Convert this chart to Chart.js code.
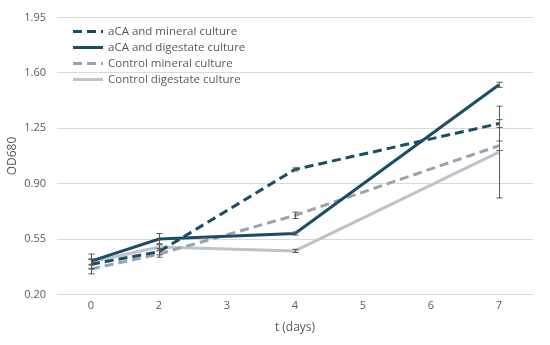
<!DOCTYPE html>
<html>
<head>
<meta charset="utf-8">
<script src="https://cdn.jsdelivr.net/npm/chart.js@4"></script>
<style>
  html, body { margin: 0; padding: 0; background: #fff; }
  #wrap { position: relative; width: 550px; height: 345px; }
</style>
</head>
<body>
<div id="wrap"><canvas id="od-chart" width="550" height="345"></canvas></div>
<script>
const dayLabels = ["0", "2", "3", "4", "5", "6", "7"];

const acaMineral = [0.39, 0.47, null, 0.99, null, null, 1.28];
const acaDigestate = [0.41, 0.55, null, 0.585, null, null, 1.525];
const ctrlMineral = [0.36, 0.455, null, 0.70, null, null, 1.14];
const ctrlDigestate = [0.405, 0.50, null, 0.475, null, null, 1.10];

const acaMineralErr = [0.03, 0.02, null, 0.01, null, null, 0.025];
const acaDigestateErr = [0.045, 0.035, null, 0.01, null, null, 0.016];
const ctrlMineralErr = [0.03, 0.02, null, 0.02, null, null, 0.03];
const ctrlDigestateErr = [0.02, 0.02, null, 0.01, null, null, 0.29];

const yTicks = [0.20, 0.55, 0.90, 1.25, 1.60, 1.95];

const TEXT = "#595959";
const FONT = "'Open Sans', 'Noto Sans', sans-serif";

const makeSeries = (label, data, errors, color, dash) => ({
  label,
  data,
  errors,
  borderColor: color,
  backgroundColor: color,
  borderWidth: 3,
  borderDash: dash,
  pointRadius: 0,
  pointHoverRadius: 0,
  tension: 0,
  spanGaps: true,
});

// error bars drawn through the chart's own scales
const errorBars = {
  id: "errorBars",
  afterDatasetsDraw(chart) {
    const { ctx, scales } = chart;
    ctx.save();
    ctx.strokeStyle = TEXT;
    ctx.lineWidth = 1;
    chart.data.datasets.forEach((ds) => {
      ds.data.forEach((v, i) => {
        const e = ds.errors[i];
        if (v == null || e == null) return;
        const x = Math.round(scales.x.getPixelForValue(i)) + 0.5;
        const top = scales.y.getPixelForValue(v + e);
        const bottom = scales.y.getPixelForValue(v - e);
        ctx.beginPath();
        ctx.moveTo(x, top);
        ctx.lineTo(x, bottom);
        ctx.moveTo(x - 3, top);
        ctx.lineTo(x + 3, top);
        ctx.moveTo(x - 3, bottom);
        ctx.lineTo(x + 3, bottom);
        ctx.stroke();
      });
    });
    ctx.restore();
  },
};

// legend drawn inside the plot, top-left, like the original
const insideLegend = {
  id: "insideLegend",
  afterDraw(chart) {
    const { ctx } = chart;
    const rows = [31, 47, 63, 79];
    ctx.save();
    ctx.font = "11.5px " + FONT;
    ctx.textBaseline = "middle";
    chart.data.datasets.forEach((ds, i) => {
      const y = rows[i] + 0.5;
      ctx.strokeStyle = ds.borderColor;
      ctx.lineWidth = 3;
      ctx.setLineDash(ds.borderDash || []);
      ctx.beginPath();
      ctx.moveTo(73, y);
      ctx.lineTo(103, y);
      ctx.stroke();
      ctx.setLineDash([]);
      ctx.fillStyle = TEXT;
      ctx.fillText(ds.label, 108, y);
    });
    ctx.restore();
  },
};

new Chart(document.getElementById("od-chart"), {
  type: "line",
  data: {
    labels: dayLabels,
    datasets: [
      makeSeries("aCA and mineral culture", acaMineral, acaMineralErr, "#1b4d66", [9, 5]),
      makeSeries("aCA and digestate culture", acaDigestate, acaDigestateErr, "#1b4d66", []),
      makeSeries("Control mineral culture", ctrlMineral, ctrlMineralErr, "#9aa4ae", [9, 5]),
      makeSeries("Control digestate culture", ctrlDigestate, ctrlDigestateErr, "#bcc3ca", []),
    ],
  },
  options: {
    responsive: false,
    animation: false,
    layout: { padding: { top: 15, right: 17, bottom: 10, left: 0 } },
    plugins: {
      legend: { display: false },
      tooltip: { enabled: false },
    },
    scales: {
      x: {
        type: "category",
        offset: true,
        grid: { display: false, drawTicks: false },
        border: { display: false },
        ticks: { color: TEXT, font: { family: FONT, size: 11 }, padding: 5 },
        title: {
          display: true,
          text: "t (days)",
          color: TEXT,
          font: { family: FONT, size: 12 },
          padding: { top: 3, bottom: 0 },
        },
      },
      y: {
        min: 0.20,
        max: 1.95,
        afterBuildTicks: (scale) => {
          scale.ticks = yTicks.map((value) => ({ value }));
        },
        afterFit: (scale) => {
          scale.width = 57;
        },
        grid: { color: "#d9d9d9", lineWidth: 1, drawTicks: false },
        border: { display: false },
        ticks: {
          color: TEXT,
          font: { family: FONT, size: 11 },
          padding: 11,
          callback: (value) => Number(value).toFixed(2),
        },
        title: {
          display: true,
          text: "OD680",
          color: TEXT,
          font: { family: FONT, size: 12 },
          padding: { top: 5, bottom: 0 },
        },
      },
    },
  },
  plugins: [errorBars, insideLegend],
});
</script>
</body>
</html>
